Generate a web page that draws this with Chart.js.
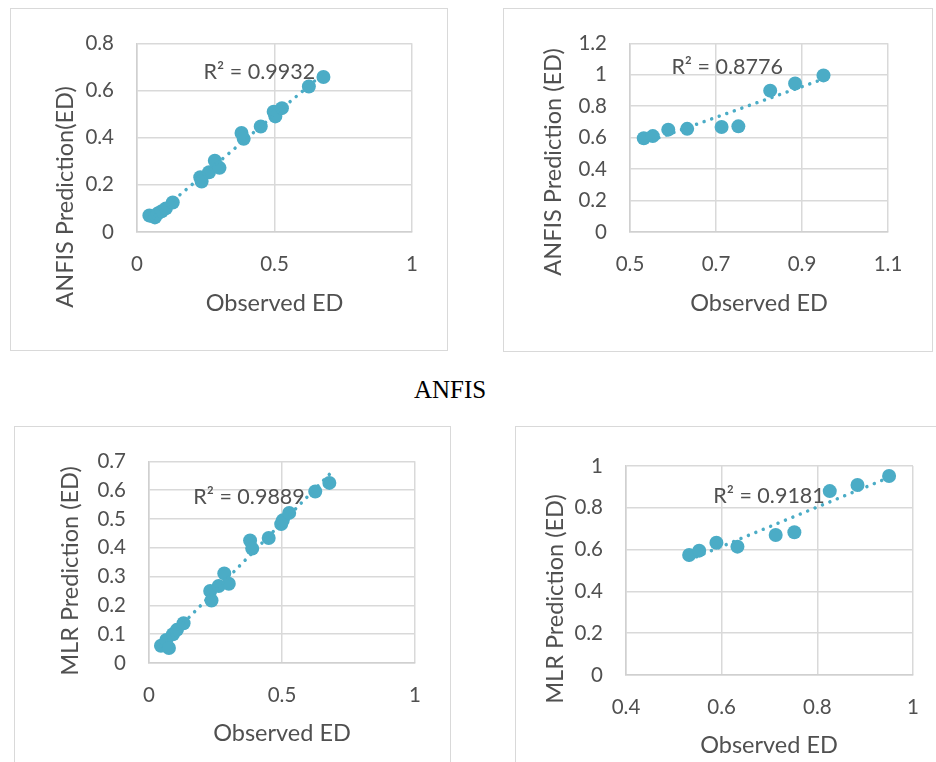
<!DOCTYPE html>
<html>
<head>
<meta charset="utf-8">
<script src="https://cdn.jsdelivr.net/npm/chart.js@4"></script>
<style>
  body { margin: 0; width: 936px; height: 762px; overflow: hidden; background: #fff; position: relative; }
  .box { position: absolute; border: 1.5px solid #d9d9d9; box-sizing: border-box; }
  canvas { position: absolute; }
  #anfis { position: absolute; left: 0; width: 900px; top: 376px; text-align: center; line-height: 30px;
           font: 25px "Liberation Serif", "Times New Roman", serif; color: #000; }
</style>
</head>
<body>
<div class="box" style="left:10px;top:8px;width:438px;height:343px"></div>
<div class="box" style="left:503px;top:8px;width:430px;height:344px"></div>
<div class="box" style="left:14px;top:426px;width:437px;height:350px"></div>
<div class="box" style="left:515px;top:426px;width:430px;height:350px"></div>
<canvas id="c1" width="438" height="343" style="left:10px;top:8px"></canvas>
<canvas id="c2" width="430" height="344" style="left:503px;top:8px"></canvas>
<canvas id="c3" width="437" height="350" style="left:14px;top:426px"></canvas>
<canvas id="c4" width="430" height="350" style="left:515px;top:426px"></canvas>
<div id="anfis">ANFIS</div>

<script>
// ─── Data ───────────────────────────────────────────────────────────────────

const trainObserved = [0.045, 0.065, 0.075, 0.09, 0.105, 0.13, 0.23, 0.235, 0.262, 0.283,
                       0.30, 0.38, 0.388, 0.45, 0.497, 0.503, 0.527, 0.625, 0.678];
const anfisTrain    = [0.070, 0.062, 0.078, 0.088, 0.100, 0.125, 0.232, 0.214, 0.253, 0.302,
                       0.272, 0.420, 0.395, 0.447, 0.510, 0.490, 0.525, 0.617, 0.657];
const mlrTrain      = [0.060, 0.080, 0.052, 0.100, 0.115, 0.138, 0.250, 0.217, 0.267, 0.311,
                       0.275, 0.425, 0.397, 0.434, 0.482, 0.495, 0.521, 0.595, 0.625];

const testObserved  = [0.532, 0.553, 0.589, 0.633, 0.713, 0.752, 0.826, 0.884, 0.950];
const anfisTest     = [0.596, 0.610, 0.651, 0.656, 0.668, 0.672, 0.899, 0.944, 0.996];
const mlrTest       = [0.574, 0.595, 0.633, 0.614, 0.670, 0.683, 0.880, 0.909, 0.952];

const r2Labels = ['R\u00b2 = 0.9932', 'R\u00b2 = 0.8776', 'R\u00b2 = 0.9889', 'R\u00b2 = 0.9181'];
const yTitles  = ['ANFIS Prediction(ED)', 'ANFIS Prediction (ED)', 'MLR Prediction (ED)', 'MLR Prediction (ED)'];
const xTitle   = 'Observed ED';

const FONT = 'Lato, "Open Sans", sans-serif';
const TEXT = '#505050';
const MARK = '#4bacc6';

// ─── Helpers ────────────────────────────────────────────────────────────────

function fitLine(xs, ys) {
  const n = xs.length;
  const mx = xs.reduce((a, b) => a + b, 0) / n;
  const my = ys.reduce((a, b) => a + b, 0) / n;
  let sxy = 0, sxx = 0;
  xs.forEach((x, i) => { sxy += (x - mx) * (ys[i] - my); sxx += (x - mx) ** 2; });
  const k = sxy / sxx, b = my - k * mx;
  const lo = Math.min(...xs), hi = Math.max(...xs);
  return [{ x: lo, y: k * lo + b }, { x: hi, y: k * hi + b }];
}

const labelsPlugin = {
  id: 'edLabels',
  afterDraw(chart, args, o) {
    const ctx = chart.ctx;
    ctx.save();
    ctx.fillStyle = TEXT;
    ctx.textAlign = 'center';
    ctx.textBaseline = 'middle';
    ctx.font = `${o.titleSize}px ${FONT}`;
    ctx.fillText(xTitle, o.xt[0], o.xt[1]);
    ctx.save();
    ctx.translate(o.yt[0], o.yt[1]);
    ctx.rotate(-Math.PI / 2);
    ctx.fillText(o.yText, 0, 0);
    ctx.restore();
    ctx.font = `${o.r2Size}px ${FONT}`;
    ctx.fillText(o.r2Text, chart.scales.x.getPixelForValue(o.r2At[0]), chart.scales.y.getPixelForValue(o.r2At[1]));
    ctx.restore();
  },
};

function renderScatter(cfg) {
  const el = document.getElementById(cfg.id);
  const pts = cfg.xs.map((x, i) => ({ x, y: cfg.ys[i] }));
  const w = el.width, h = el.height;
  const ox = parseFloat(el.style.left), oy = parseFloat(el.style.top);
  const p = cfg.plot;
  const grid = { color: '#d9d9d9', lineWidth: 1.5, drawTicks: false };
  const border = { color: '#d0d0d0', width: 1.5 };
  const ticks = { color: TEXT, font: { family: FONT, size: 20.5 } };

  new Chart(el, {
    type: 'scatter',
    data: {
      datasets: [{
        type: 'line',
        data: fitLine(cfg.xs, cfg.ys),
        borderColor: MARK,
        borderWidth: 3.5,
        borderDash: [0.01, 8],
        borderCapStyle: 'round',
        pointRadius: 0,
        fill: false,
      }, {
        data: pts,
        backgroundColor: MARK,
        borderWidth: 0,
        pointRadius: 7,
        pointHoverRadius: 7,
      }],
    },
    options: {
      responsive: false,
      animation: false,
      events: [],
      layout: { padding: { left: 0, top: p.t - oy, right: ox + w - p.r, bottom: 0 } },
      plugins: {
        legend: { display: false },
        tooltip: { enabled: false },
        edLabels: {
          titleSize: 23.5, r2Size: 21.5, yText: cfg.yTitle, r2Text: cfg.r2,
          xt: [cfg.xt[0] - ox, cfg.xt[1] - oy], yt: [cfg.yt[0] - ox, cfg.yt[1] - oy], r2At: cfg.r2At,
        },
      },
      scales: {
        x: {
          type: 'linear', min: cfg.x[0], max: cfg.x[1],
          afterFit: s => { s.height = oy + h - p.b; },
          ticks: { ...ticks, stepSize: cfg.x[2], padding: 20, callback: v => String(+v.toFixed(1)) },
          grid, border,
        },
        y: {
          min: cfg.y[0], max: cfg.y[1],
          afterFit: s => { s.width = p.l - ox; },
          ticks: { ...ticks, stepSize: cfg.y[2], padding: 23, callback: v => String(+v.toFixed(1)) },
          grid, border,
        },
      },
    },
    plugins: [labelsPlugin],
  });
}

// ─── The four panels ────────────────────────────────────────────────────────

renderScatter({ id: 'c1', xs: trainObserved, ys: anfisTrain, x: [0, 1, 0.5], y: [0, 0.8, 0.2],
  plot: { l: 137, t: 38, r: 412, b: 232 }, xt: [274.5, 303], yt: [65, 197],
  yTitle: yTitles[0], r2: r2Labels[0], r2At: [0.445, 0.68] });

renderScatter({ id: 'c2', xs: testObserved, ys: anfisTest, x: [0.5, 1.1, 0.2], y: [0, 1.2, 0.2],
  plot: { l: 630, t: 38, r: 888, b: 232 }, xt: [759, 303], yt: [553, 162],
  yTitle: yTitles[1], r2: r2Labels[1], r2At: [0.726, 1.051] });

renderScatter({ id: 'c3', xs: trainObserved, ys: mlrTrain, x: [0, 1, 0.5], y: [0, 0.7, 0.1],
  plot: { l: 149, t: 455, r: 415, b: 663 }, xt: [282, 733], yt: [70, 571],
  yTitle: yTitles[2], r2: r2Labels[2], r2At: [0.376, 0.577] });

renderScatter({ id: 'c4', xs: testObserved, ys: mlrTest, x: [0.4, 1, 0.2], y: [0, 1, 0.2],
  plot: { l: 626, t: 466, r: 913, b: 675 }, xt: [769, 745], yt: [555, 599],
  yTitle: yTitles[3], r2: r2Labels[3], r2At: [0.699, 0.856] });
</script>
</body>
</html>
